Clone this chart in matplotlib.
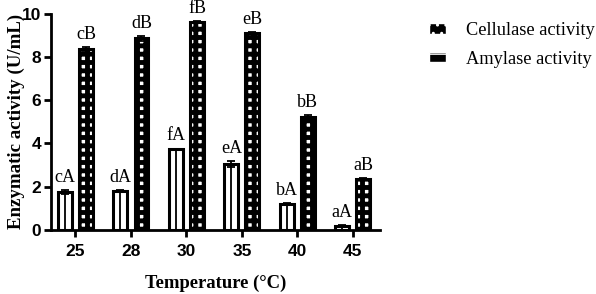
import numpy as np
import matplotlib
matplotlib.use('Agg')
import matplotlib.pyplot as plt
from matplotlib.patches import Patch

temps = ['25', '28', '30', '35', '40', '45']
cellulase = [1.75, 1.80, 3.72, 3.05, 1.20, 0.18]
cellulase_err = [0.10, 0.05, 0.04, 0.12, 0.06, 0.03]
amylase = [8.35, 8.85, 9.62, 9.10, 5.20, 2.35]
amylase_err = [0.10, 0.12, 0.04, 0.04, 0.12, 0.05]
cell_letters = ['cA', 'dA', 'fA', 'eA', 'bA', 'aA']
amyl_letters = ['cB', 'dB', 'fB', 'eB', 'bB', 'aB']

fig = plt.figure(figsize=(5.96, 2.94), dpi=100)
ax = fig.add_axes([0.0856, 0.2177, 0.552, 0.7363])

x = np.arange(len(temps))
w = 0.25
off = 0.19

# cellulase: white bar, thick outline, line down the middle
ax.bar(x - off, cellulase, w, color='white', edgecolor='black', linewidth=2.2, zorder=2)
ax.vlines(x - off, 0, cellulase, colors='black', linewidth=1.3, zorder=2)
ax.errorbar(x - off, cellulase, yerr=cellulase_err, fmt='none', ecolor='black',
            elinewidth=1.3, capsize=3, capthick=1.3, zorder=3)

# amylase: black grid leaving white squares
plt.rcParams['hatch.linewidth'] = 3.5
ax.bar(x + off, amylase, w, color='white', edgecolor='black', hatch='++', linewidth=2.2, zorder=2)
ax.errorbar(x + off, amylase, yerr=amylase_err, fmt='none', ecolor='black',
            elinewidth=1.3, capsize=3, capthick=1.3, zorder=3)

plt.rcParams['hatch.linewidth'] = 1.0
h1 = Patch(facecolor='black', edgecolor='white', hatch='..', label='Cellulase activity')
h2 = Patch(facecolor='black', edgecolor='white', hatch='--', label='Amylase activity')
fig.legend(handles=[h1, h2], loc='upper left', bbox_to_anchor=(0.72, 0.925), frameon=False,
           prop={'family': 'Liberation Serif', 'size': 13.2}, handlelength=0.9, handleheight=0.55,
           labelspacing=0.65, handletextpad=1.1, borderaxespad=0, borderpad=0)

for i in range(len(temps)):
    ax.annotate(cell_letters[i], (x[i] - off, cellulase[i] + cellulase_err[i]), xytext=(0, 3),
                textcoords='offset points', ha='center', va='bottom',
                fontfamily='Liberation Serif', fontsize=13)
    ax.annotate(amyl_letters[i], (x[i] + off, amylase[i] + amylase_err[i]), xytext=(0, 3),
                textcoords='offset points', ha='center', va='bottom',
                fontfamily='Liberation Serif', fontsize=13)

ax.set_xlim(-0.44, 5.49)
ax.set_ylim(0, 10)
ax.set_yticks([0, 2, 4, 6, 8, 10])
ax.set_xticks(x)
ax.set_xticklabels(temps)
for sp in ['top', 'right']:
    ax.spines[sp].set_visible(False)
for sp in ['left', 'bottom']:
    ax.spines[sp].set_linewidth(2.0)
ax.tick_params(axis='both', width=2.0, length=5, labelsize=12.5)
for lab in ax.get_xticklabels() + ax.get_yticklabels():
    lab.set_fontfamily('Liberation Sans')
    lab.set_fontweight('bold')
ax.tick_params(axis='x', pad=5)
ax.tick_params(axis='y', pad=2)

ax.set_xlabel('Temperature (\u00b0C)', fontfamily='Liberation Serif', fontweight='bold',
              fontsize=13.4)
ax.xaxis.set_label_coords(0.5, -0.205)
ax.set_ylabel('Enzymatic activity (U/mL)', fontfamily='Liberation Serif', fontweight='bold',
              fontsize=13.6)
ax.yaxis.set_label_coords(-0.079, 0.5)

fig.savefig('out.png', dpi=100)
